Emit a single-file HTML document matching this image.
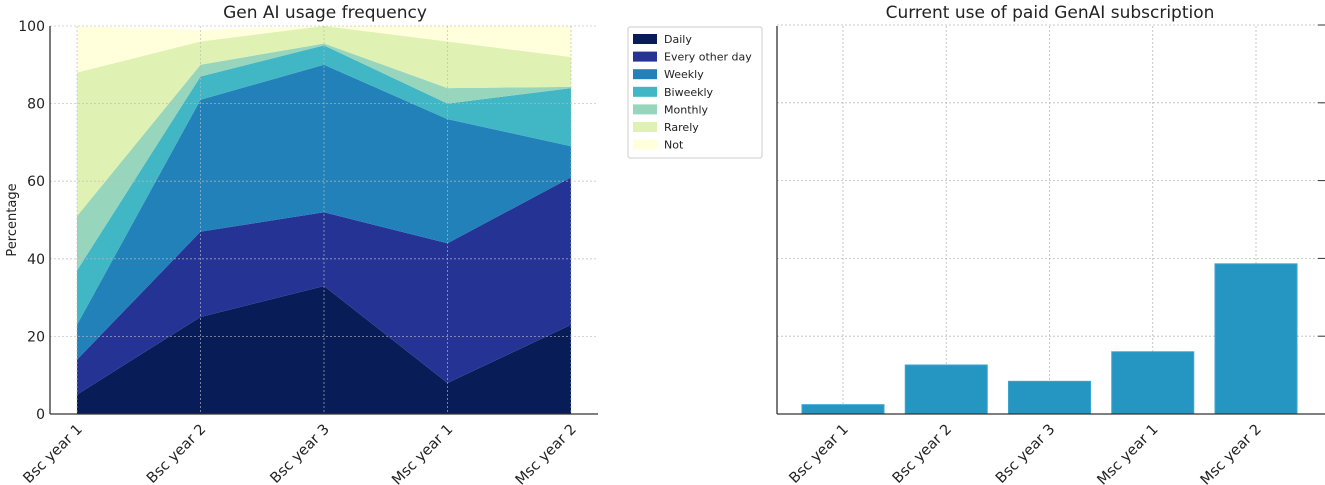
<!DOCTYPE html>
<html><head><meta charset="utf-8"><style>
html,body{margin:0;padding:0;background:#fff}
svg{display:block;font-family:"DejaVu Sans","Liberation Sans",sans-serif}
</style></head><body>
<svg id="c" width="1325" height="485" xmlns="http://www.w3.org/2000/svg"></svg>
<script>
const categories=["Bsc year 1","Bsc year 2","Bsc year 3","Msc year 1","Msc year 2"];
const seriesNames=["Daily","Every other day","Weekly","Biweekly","Monthly","Rarely","Not"];
const daily=[5,25,33,8,23];
const everyOtherDay=[9,22,19,36,38];
const weekly=[9,34,38,32,8];
const biweekly=[14,6,5,4,15];
const monthly=[14,3,0.5,4,0.3];
const rarely=[37,6,4.5,12,7.7];
const notUsed=[12,3,0,4,8];
const yTicks=[0,20,40,60,80,100];
const paid=[1.2,6.3,4.2,8,19.3];
const colors=["#081d58","#253494","#2281b9","#41b6c4","#97d5bc","#dff2b3","#ffffdb"];
const NS="http://www.w3.org/2000/svg";
const svg=document.getElementById('c');
function el(t,a,p){const e=document.createElementNS(NS,t);for(const k in a)e.setAttribute(k,a[k]);(p||svg).appendChild(e);return e;}
const L={x0:50,x1:598,y0:414,y1:26,p0:77,p1:571};
const lx=i=>L.p0+i*(L.p1-L.p0)/(categories.length-1);
const ly=v=>L.y0-v/100*(L.y0-L.y1);
const all=[daily,everyOtherDay,weekly,biweekly,monthly,rarely,notUsed];
let base=categories.map(()=>0);
all.forEach((s,k)=>{
  const top=base.map((b,i)=>b+s[i]);
  let d="";
  top.forEach((v,i)=>{d+=(i?"L":"M")+lx(i)+","+ly(Math.min(v,100));});
  for(let i=categories.length-1;i>=0;i--)d+="L"+lx(i)+","+ly(Math.min(base[i],100));
  const p=el('path',{d:d+"Z",fill:colors[k]});
  
  
  base=top;
});
yTicks.forEach(v=>{
  const g=el('line',{x1:L.x0,x2:L.x1,y1:ly(v),y2:ly(v),stroke:"#bbb","stroke-dasharray":"2,2","stroke-width":0.8,opacity:0.8});
  
  
  const t=el('text',{x:L.x0-5,y:ly(v)+5,"text-anchor":"end","font-size":14,fill:"#222"});
  t.textContent=v;
  
  
});
categories.forEach((c,i)=>{
  const g=el('line',{x1:lx(i),x2:lx(i),y1:L.y1,y2:L.y0,stroke:"#bbb","stroke-dasharray":"2,2","stroke-width":0.8,opacity:0.8});
  
  
  const t=el('text',{x:lx(i)+6,y:L.y0+16,"text-anchor":"end","font-size":14.5,fill:"#222",transform:`rotate(-45 ${lx(i)+6} ${L.y0+16})`});
  t.textContent=c;
  
  
});
el('line',{x1:L.x0,x2:L.x0,y1:L.y1,y2:L.y0,stroke:"#333","stroke-width":1.3});
el('line',{x1:L.x0,x2:L.x1,y1:L.y0,y2:L.y0,stroke:"#333","stroke-width":1.3});
let t=el('text',{x:325,y:18,"text-anchor":"middle","font-size":17,fill:"#222"});t.textContent="Gen AI usage frequency";

t=el('text',{x:16,y:220,"text-anchor":"middle","font-size":13,fill:"#222",transform:"rotate(-90 16 220)"});t.textContent="Percentage";

const lg=el('g',{});


el('rect',{x:628,y:27,width:134,height:131,fill:"#fff",stroke:"#ccc",rx:2},lg);
seriesNames.forEach((n,k)=>{
  const y=34+k*17.6;
  const r=el('rect',{x:633,y:y,width:24,height:10,fill:colors[k]},lg);
  
  
  const tt=el('text',{x:664,y:y+9,"font-size":11,fill:"#222"},lg);
  tt.textContent=n;
  
  
});
const R={x0:777,x1:1325,y0:414,y1:26,p0:843,step:103.25,bw:82,unit:7.78};
const rx=i=>R.p0+i*R.step;
const ry=v=>R.y0-v*R.unit;
[10,20,30,40,50].forEach(v=>{
  const g=el('line',{x1:R.x0,x2:R.x1,y1:ry(v),y2:ry(v),stroke:"#bbb","stroke-dasharray":"2,2","stroke-width":0.8});
  
  
  el('line',{x1:1318,x2:1325,y1:ry(v),y2:ry(v),stroke:"#333","stroke-width":1});
});
categories.forEach((c,i)=>{
  const g=el('line',{x1:rx(i),x2:rx(i),y1:R.y1,y2:R.y0,stroke:"#bbb","stroke-dasharray":"2,2","stroke-width":0.8});
  
  
});
paid.forEach((v,i)=>{
  const b=el('rect',{x:rx(i)-R.bw/2,y:ry(v),width:R.bw,height:R.y0-ry(v),fill:"#2596c1",stroke:"#3aa6cf","stroke-width":1});
  
  
});
categories.forEach((c,i)=>{
  const t=el('text',{x:rx(i)+6,y:R.y0+16,"text-anchor":"end","font-size":14.5,fill:"#222",transform:`rotate(-45 ${rx(i)+6} ${R.y0+16})`});
  t.textContent=c;
  
  
});
el('line',{x1:R.x0,x2:R.x0,y1:R.y1,y2:R.y0,stroke:"#333","stroke-width":1.3});
el('line',{x1:R.x0,x2:R.x1,y1:R.y0,y2:R.y0,stroke:"#333","stroke-width":1.3});
t=el('text',{x:1050,y:18,"text-anchor":"middle","font-size":17,fill:"#222"});t.textContent="Current use of paid GenAI subscription";

</script>
</body></html>
